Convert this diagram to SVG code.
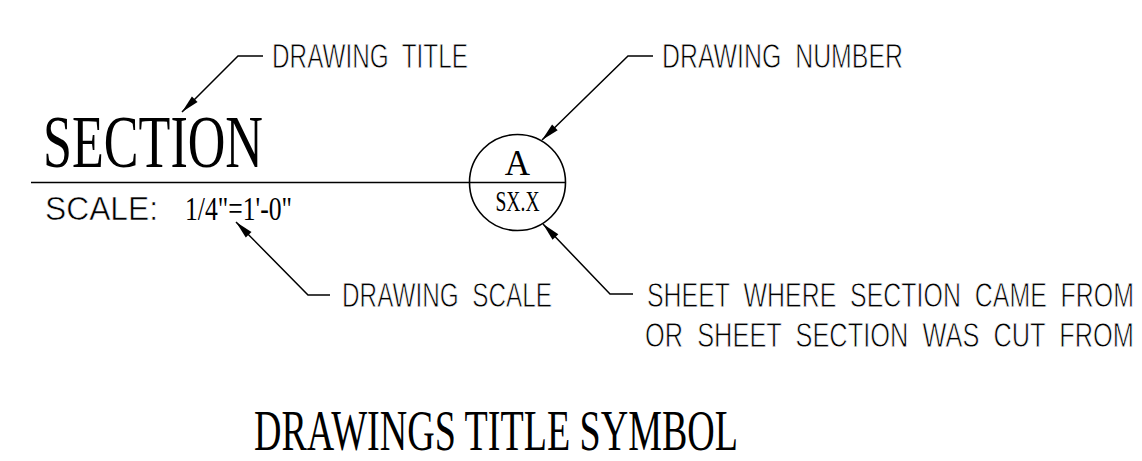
<svg xmlns="http://www.w3.org/2000/svg" width="1142" height="461" viewBox="0 0 1142 461">
<style>
.sans{font-family:"Liberation Sans",Arial,sans-serif;fill:#000;stroke:#fff;stroke-width:0.6}
.lbl{font-size:25px}
.serif{font-family:"Liberation Serif","Times New Roman",serif;fill:#000}
.ln{fill:none;stroke:#000;stroke-width:1.6}
.ldr{fill:none;stroke:#000;stroke-width:1.5;marker-end:url(#arr)}
</style>
<defs>
<marker id="arr" markerUnits="userSpaceOnUse" markerWidth="22" markerHeight="12" viewBox="-20 -6 22 12" refX="0" refY="0" orient="auto">
<path d="M0,0 L-18,-4 L-18,4 z" fill="#000"/>
</marker>
</defs>
<rect width="1142" height="461" fill="#fff"/>
<g id="title-block">
<text class="serif" x="43" y="167" font-size="74" textLength="220" lengthAdjust="spacingAndGlyphs">SECTION</text>
<line class="ln" x1="31" y1="182.5" x2="470" y2="182.5"/>
<text class="sans" x="45" y="220" font-size="33" textLength="113" lengthAdjust="spacingAndGlyphs">SCALE:</text>
<text class="serif" x="185" y="220" font-size="34" textLength="107" lengthAdjust="spacingAndGlyphs">1/4"=1'-0"</text>
</g>
<g id="symbol">
<circle class="ln" cx="517.5" cy="182.5" r="48"/>
<line class="ln" x1="469.5" y1="182.5" x2="565.5" y2="182.5"/>
<text class="serif" x="517.5" y="175" font-size="35" text-anchor="middle">A</text>
<text class="serif" x="517.5" y="211" font-size="29" text-anchor="middle" textLength="44" lengthAdjust="spacingAndGlyphs">SX.X</text>
</g>
<g id="label-title">
<text class="sans lbl" transform="translate(272,68) scale(1,1.4)" textLength="196" lengthAdjust="spacingAndGlyphs" xml:space="preserve">DRAWING  TITLE</text>
</g>
<g id="label-number">
<text class="sans lbl" transform="translate(662,68) scale(1,1.4)" textLength="241" lengthAdjust="spacingAndGlyphs" xml:space="preserve">DRAWING  NUMBER</text>
</g>
<g id="label-scale">
<text class="sans lbl" transform="translate(342,307) scale(1,1.4)" textLength="210" lengthAdjust="spacingAndGlyphs" xml:space="preserve">DRAWING  SCALE</text>
</g>
<g id="label-sheet">
<text class="sans lbl" transform="translate(647,307) scale(1,1.4)" textLength="487" lengthAdjust="spacingAndGlyphs" xml:space="preserve">SHEET  WHERE  SECTION  CAME  FROM</text>
<text class="sans lbl" transform="translate(645,347) scale(1,1.4)" textLength="489" lengthAdjust="spacingAndGlyphs" xml:space="preserve">OR  SHEET  SECTION  WAS  CUT  FROM</text>
</g>
<g id="caption">
<text class="serif" x="254" y="450" font-size="56" textLength="484" lengthAdjust="spacingAndGlyphs">DRAWINGS TITLE SYMBOL</text>
</g>
<g id="connectors">
<polyline class="ldr" points="263,56 238,56 182,112"/>
<polyline class="ldr" points="653,56 628,56 542,140"/>
<polyline class="ldr" points="330,295 308,295 236,222"/>
<polyline class="ldr" points="633,294 610,294 543,224"/>
</g>
</svg>
